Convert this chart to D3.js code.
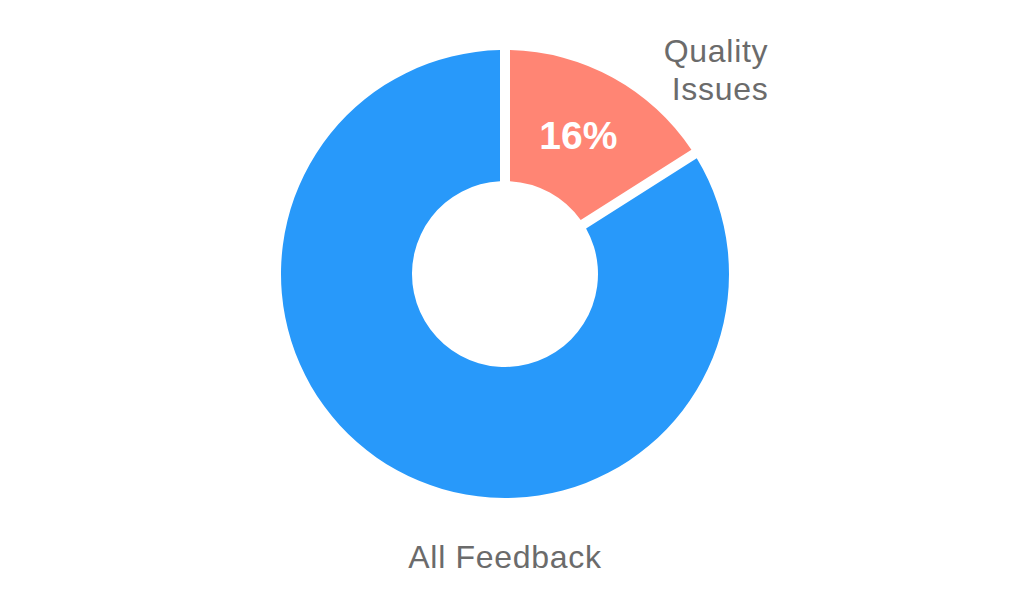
<!DOCTYPE html>
<html lang="en">
	<head>
		<meta charset="utf-8">
		<title>Feedback donut</title>
		<script src="https://cdn.jsdelivr.net/npm/d3@7"></script>
		<style type="text/css">
			body { margin: 0; background: #fff; }
			text { font-family: "Liberation Sans", Arial, sans-serif; }
		</style>
	</head>
	<body>
		<script type="text/javascript">

			// Data
			var categories = ["Quality Issues", "All Feedback"];
			var values = [16, 84];
			var colors = ["#ff8574", "#2899fa"];
			var labelLines = [["Quality", "Issues"], ["All Feedback"]];

			//Width and height
			var w = 1024;
			var h = 606;
			var cx = 505, cy = 274;
			var outer = 224, inner = 93;

			var svg = d3.select("body")
						.append("svg")
						.attr("width", w)
						.attr("height", h);

			var g = svg.append("g")
				.attr("transform", "translate(" + cx + "," + cy + ")");

			var pie = d3.pie().sort(null).value(function(d) { return d; });

			var arc = d3.arc()
				.innerRadius(inner)
				.outerRadius(outer)
				.padRadius(outer)
				.padAngle(10 / outer);

			var color = d3.scaleOrdinal().domain(categories).range(colors);

			var arcs = pie(values);

			g.selectAll("path")
			   .data(arcs)
			   .enter()
			   .append("path")
			   .attr("d", arc)
			   .style("fill", function(d, i) { return color(categories[i]); });

			// percentage inside the small slice
			var total = d3.sum(values);
			g.append("text")
				.attr("transform", "translate(" + arc.centroid(arcs[0]) + ")")
				.attr("text-anchor", "middle")
				.attr("dy", "0.36em")
				.attr("dx", -3)
				.style("font-size", "39px")
				.style("font-weight", "bold")
				.style("fill", "#fff")
				.text(Math.round(values[0] / total * 100) + "%");

			// outside labels
			var labelPos = [[716, 62], [505, 568]];
			labelLines.forEach(function(lines, i) {
				var t = svg.append("text")
					.attr("x", labelPos[i][0])
					.attr("y", labelPos[i][1])
					.attr("text-anchor", "middle")
					.style("font-size", "32px")
					.style("letter-spacing", "0.7px")
					.style("fill", "#6b6b6b");
				lines.forEach(function(l, j) {
					t.append("tspan")
						.attr("x", labelPos[i][0] + (j > 0 ? 4 : 0))
						.attr("dy", j === 0 ? 0 : 38)
						.text(l);
				});
			});

		</script>
	</body>
</html>
